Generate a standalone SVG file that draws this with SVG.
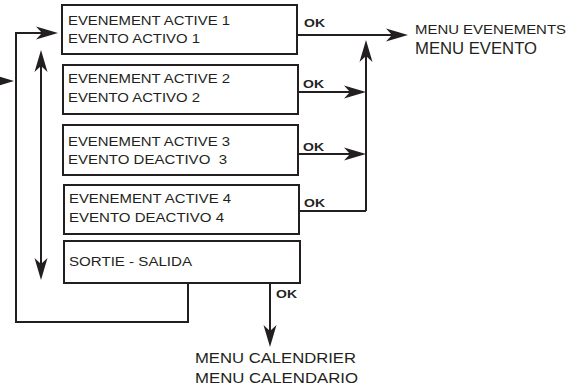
<svg xmlns="http://www.w3.org/2000/svg" width="576" height="389" viewBox="0 0 576 389">
<style>
.box{fill:#fff;stroke:#231f20;stroke-width:2}
.t{font-family:"Liberation Sans",Arial,sans-serif;font-size:13.4px;fill:#231f20}
.ok{font-family:"Liberation Sans",Arial,sans-serif;font-size:11.5px;font-weight:bold;fill:#231f20}
.big{font-family:"Liberation Sans",Arial,sans-serif;fill:#231f20}
.c{fill:none;stroke:#231f20;stroke-width:2}
</style>
<defs>
<marker id="ah" markerUnits="userSpaceOnUse" viewBox="0 0 24 14" markerWidth="24" markerHeight="14" refX="20" refY="7" orient="auto-start-reverse">
<path d="M24,7 L2,0.5 L8,7 L2,13.5 Z" fill="#231f20"/>
</marker>
</defs>
<g id="connectors">
<path class="c" d="M188,283 V322 H16 V33 H54" marker-end="url(#ah)"/>
<path class="c" d="M-10,81 H10" marker-end="url(#ah)"/>
<path class="c" d="M41,54 V276" marker-start="url(#ah)" marker-end="url(#ah)"/>
<path class="c" d="M297,35 H404" marker-end="url(#ah)"/>
<path class="c" d="M366,211 V44" marker-end="url(#ah)"/>
<path class="c" d="M298,92 H362" marker-end="url(#ah)"/>
<path class="c" d="M298,154 H362" marker-end="url(#ah)"/>
<path class="c" d="M299,211 H366"/>
<path class="c" d="M270,283 V343" marker-end="url(#ah)"/>
<text class="ok" x="304" y="27" textLength="21" lengthAdjust="spacingAndGlyphs">OK</text>
<text class="ok" x="303" y="88" textLength="21" lengthAdjust="spacingAndGlyphs">OK</text>
<text class="ok" x="303" y="151" textLength="21" lengthAdjust="spacingAndGlyphs">OK</text>
<text class="ok" x="304" y="207" textLength="21" lengthAdjust="spacingAndGlyphs">OK</text>
<text class="ok" x="276" y="298" textLength="21" lengthAdjust="spacingAndGlyphs">OK</text>
</g>
<g id="box1">
<rect class="box" x="62" y="5" width="235" height="49"/>
<text class="t" x="68" y="25" textLength="162" lengthAdjust="spacingAndGlyphs">EVENEMENT ACTIVE 1</text>
<text class="t" x="68" y="43" textLength="132" lengthAdjust="spacingAndGlyphs">EVENTO ACTIVO 1</text>
</g>
<g id="box2">
<rect class="box" x="63" y="65" width="235" height="49"/>
<text class="t" x="68" y="83" textLength="162" lengthAdjust="spacingAndGlyphs">EVENEMENT ACTIVE 2</text>
<text class="t" x="68" y="102" textLength="132" lengthAdjust="spacingAndGlyphs">EVENTO ACTIVO 2</text>
</g>
<g id="box3">
<rect class="box" x="63" y="125" width="235" height="50"/>
<text class="t" x="68" y="146" textLength="162" lengthAdjust="spacingAndGlyphs">EVENEMENT ACTIVE 3</text>
<text class="t" x="68" y="164" textLength="159" lengthAdjust="spacingAndGlyphs" xml:space="preserve">EVENTO DEACTIVO  3</text>
</g>
<g id="box4">
<rect class="box" x="64" y="185" width="235" height="49"/>
<text class="t" x="69" y="203" textLength="162" lengthAdjust="spacingAndGlyphs">EVENEMENT ACTIVE 4</text>
<text class="t" x="69" y="222" textLength="155" lengthAdjust="spacingAndGlyphs">EVENTO DEACTIVO 4</text>
</g>
<g id="box5">
<rect class="box" x="64" y="241" width="236" height="42"/>
<text class="t" x="69" y="266" textLength="123" lengthAdjust="spacingAndGlyphs">SORTIE - SALIDA</text>
</g>
<g id="menu-evenements">
<text class="big" x="415" y="34" font-size="13.4" textLength="151" lengthAdjust="spacingAndGlyphs">MENU EVENEMENTS</text>
<text class="big" x="415" y="54" font-size="17" textLength="122" lengthAdjust="spacingAndGlyphs">MENU EVENTO</text>
</g>
<g id="menu-calendrier">
<text class="big" x="195" y="363" font-size="15.5" textLength="161" lengthAdjust="spacingAndGlyphs">MENU CALENDRIER</text>
<text class="big" x="195" y="383" font-size="15.5" textLength="163" lengthAdjust="spacingAndGlyphs">MENU CALENDARIO</text>
</g>
</svg>
